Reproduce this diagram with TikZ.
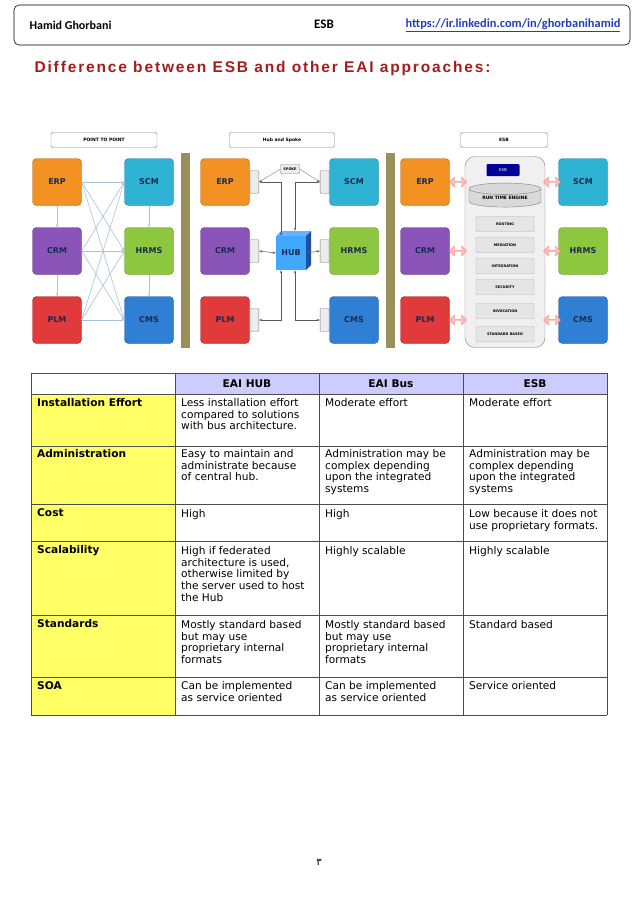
\documentclass[tikz,border=0pt]{standalone}
\usepackage{fontspec}
\setmainfont{DejaVu Sans}
\newfontfamily\carl{Carlito}
\newfontfamily\lib{Liberation Sans}
\newfontfamily\arab[Script=Arabic]{DejaVu Sans}
\TeXXeTstate=1
\usetikzlibrary{arrows.meta,shapes.geometric,shapes.arrows,calc}
\definecolor{borg}{HTML}{F39223}
\definecolor{bcyan}{HTML}{2FB3D4}
\definecolor{bpur}{HTML}{8A54B8}
\definecolor{bgrn}{HTML}{8DC63F}
\definecolor{bred}{HTML}{E03A3A}
\definecolor{bblue}{HTML}{2F7FD4}
\definecolor{navy}{HTML}{1A2A50}
\definecolor{hdr}{HTML}{CCCCFF}
\definecolor{yel}{HTML}{FFFF66}
\definecolor{bar}{HTML}{9A8F5A}
\definecolor{ttl}{HTML}{A51C1C}
\definecolor{lnk}{HTML}{1F3FBF}
\definecolor{ln}{HTML}{A9C2D6}
\tikzset{
 app/.style={rounded corners=4pt,fill=#1,draw=#1!70!black,minimum width=49pt,minimum height=47pt,font=\bfseries\fontsize{8}{9}\selectfont,text=navy,inner sep=0},
 ttlbox/.style={draw=gray,rounded corners=1.5pt,fill=white,minimum height=15pt,font=\bfseries\fontsize{4.5}{5}\selectfont},
 sep/.style={fill=bar},
 p2pa/.style={draw=ln,line width=0.6pt,-{Stealth[length=3pt]}},
 conn/.style={draw=gray,fill=gray!15,rounded corners=1pt,minimum width=9pt,minimum height=23pt,inner sep=0},
 hubl/.style={draw=gray!70!black,line width=0.5pt,{Stealth[length=3pt]}-{Stealth[length=3pt]}},
 layer/.style={draw=gray!60,fill=gray!20,rounded corners=1pt,minimum width=58pt,minimum height=15pt,font=\bfseries\fontsize{3.5}{4}\selectfont,inner sep=0},
 pk/.style={double arrow,fill=pink,draw=pink!70!red,minimum height=17pt,minimum width=10pt,inner sep=0,double arrow head extend=2pt},
 cell/.style={anchor=north west,align=left,inner sep=0,font=\fontsize{10.6}{11.8}\selectfont},
 hcell/.style={font=\bfseries\fontsize{10.6}{12}\selectfont,inner sep=0},
 tline/.style={draw=gray!60!black,line width=0.6pt}
}
\begin{document}
\begin{tikzpicture}[x=1pt,y=-1pt]
\useasboundingbox[fill=white] (0,0) rectangle (638,903);
% header
\draw[rounded corners=5pt,line width=0.6pt] (14,5) rectangle (630,45);
\node[anchor=west,font=\carl\bfseries\fontsize{12}{14}\selectfont] (hn) at (26,25) {Hamid Ghorbani};
\node[font=\carl\bfseries\fontsize{13}{15}\selectfont] (he) at (324,24) {ESB};
\node[anchor=east,font=\carl\bfseries\fontsize{12.4}{14}\selectfont,text=lnk] (hl) at (624,25) {\underline{https://ir.linkedin.com/in/ghorbanihamid}};
\node[anchor=west,font=\lib\bfseries\fontsize{15.5}{17}\selectfont,text=ttl] (tt) at (31,68) {\addfontfeature{LetterSpace=12}Difference between ESB and other EAI approaches:};
% ---- point to point
\node[ttlbox,minimum width=106pt] (t1) at (104,140) {POINT TO POINT};
\node[app=borg] (a1) at (57,182) {ERP};
\node[app=bpur] (a2) at (57,251) {CRM};
\node[app=bred] (a3) at (57,320) {PLM};
\node[app=bcyan] (b1) at (149,182) {SCM};
\node[app=bgrn] (b2) at (149,251) {HRMS};
\node[app=bblue] (b3) at (149,320) {CMS};
\foreach \a in {a1,a2,a3}{\foreach \b in {b1,b2,b3}{\draw[p2pa] (\a.east) -- (\b.west);}}
\draw[p2pa] (a1) -- (a2); \draw[p2pa] (a2) -- (a3);
\draw[p2pa] (b1) -- (b2); \draw[p2pa] (b2) -- (b3);
\fill[sep] (181,153) rectangle (190,348);
% ---- hub and spoke
\node[ttlbox,minimum width=105pt] (t2) at (282,140) {Hub and Spoke};
\node[app=borg] (c1) at (225,182) {ERP};
\node[app=bpur] (c2) at (225,251) {CRM};
\node[app=bred] (c3) at (225,320) {PLM};
\node[app=bcyan] (d1) at (354,182) {SCM};
\node[app=bgrn] (d2) at (354,251) {HRMS};
\node[app=bblue] (d3) at (354,320) {CMS};
\foreach \n in {c1,c2,c3}{\node[conn,anchor=west] (k\n) at (\n.east) {};}
\foreach \n in {d1,d2,d3}{\node[conn,anchor=east] (k\n) at (\n.west) {};}
\fill[blue!50!cyan!60] (276,236) -- (281,231) -- (311,231) -- (306,236) -- cycle;
\fill[blue!60!cyan!60!black!90] (306,236) -- (311,231) -- (311,265) -- (306,270) -- cycle;
\node[fill=blue!45!cyan!75,minimum width=30pt,minimum height=34pt,inner sep=0,font=\bfseries\fontsize{8}{9}\selectfont,text=navy] (hub) at (291,253) {HUB};
\node[draw=gray,fill=gray!15,rounded corners=1pt,font=\bfseries\fontsize{3.5}{4}\selectfont,minimum width=19pt,minimum height=9pt,inner sep=0] (sp) at (290,169) {SPOKE};
\draw[gray,line width=0.4pt,-{Stealth[length=3pt]}] (sp.west) -- (kc1.east);
\draw[gray,line width=0.4pt,-{Stealth[length=3pt]}] (sp.east) -- (kd1.west);
\draw[hubl] (kc1.east) -| ($(hub.north)+(-10,0)$);
\draw[hubl] (kd1.west) -| ($(hub.north)+(4,-5)$);
\draw[hubl] (kc2.east) -- (hub.west);
\draw[hubl] (kd2.west) -- (hub.east);
\draw[hubl] (kc3.east) -| ($(hub.south)+(-10,0)$);
\draw[hubl] (kd3.west) -| ($(hub.south)+(4,0)$);
\fill[sep] (386,153) rectangle (395,348);
% ---- ESB
\node[ttlbox,minimum width=87pt] (t3) at (504,140) {ESB};
\node[app=borg] (e1) at (425,182) {ERP};
\node[app=bpur] (e2) at (425,251) {CRM};
\node[app=bred] (e3) at (425,320) {PLM};
\node[app=bcyan] (f1) at (583,182) {SCM};
\node[app=bgrn] (f2) at (583,251) {HRMS};
\node[app=bblue] (f3) at (583,320) {CMS};
\node[draw=gray,fill=gray!12,rounded corners=10pt,minimum width=80pt,minimum height=191pt,inner sep=0] (bus) at (505,252) {};
\node[fill=blue!60!black,rounded corners=1pt,minimum width=33pt,minimum height=12pt,inner sep=0,font=\fontsize{4}{5}\selectfont,text=white] (eb) at (503,170) {ESB};
\node[cylinder,shape border rotate=90,aspect=0.25,draw=gray,fill=gray!30,minimum width=72pt,minimum height=24pt,inner sep=0,font=\bfseries\fontsize{4.5}{5}\selectfont] (rt) at (505,198) {RUN TIME ENGINE};
\node[layer] (l1) at (505,224) {ROUTING};
\node[layer] (l2) at (505,245) {MEDIATION};
\node[layer] (l3) at (505,266) {INTEGRATION};
\node[layer] (l4) at (505,287) {SECURITY};
\node[layer] (l5) at (505,311) {INVOCATION};
\node[layer] (l6) at (505,334) {STANDARD BASED};
\foreach \y in {182,251,320}{\node[pk] at (458,\y) {}; \node[pk] at (552,\y) {};}
% ---- table
\fill[hdr] (175,373) rectangle (607,394);
\fill[yel] (31,394) rectangle (175,715);
\foreach \y in {373,394,446,504,541,615,677,715}{\draw[tline] (31,\y) -- (607,\y);}
\foreach \x in {31,175,319,463,607}{\draw[tline] (\x,373) -- (\x,715);}
\node[hcell] (h1) at (247,384) {EAI HUB};
\node[hcell] (h2) at (391,384) {EAI Bus};
\node[hcell] (h3) at (535,384) {ESB};
\foreach \t/\y/\n in {Installation Effort/398/r1,Administration/449/r2,Cost/508/r3,Scalability/545/r4,Standards/619/r5,SOA/681/r6}
 {\node[anchor=north west,inner sep=0,font=\bfseries\fontsize{10.6}{12}\selectfont] (\n) at (37,\y) {\t};}
\node[cell] at (181,398) {Less installation effort\\compared to solutions\\with bus architecture.};
\node[cell] at (325,398) {Moderate effort};
\node[cell] at (469,398) {Moderate effort};
\node[cell] at (181,449) {Easy to maintain and\\administrate because\\of central hub.};
\node[cell] at (325,449) {Administration may be\\complex depending\\upon the integrated\\systems};
\node[cell] at (469,449) {Administration may be\\complex depending\\upon the integrated\\systems};
\node[cell] at (181,509) {High};
\node[cell] at (325,509) {High};
\node[cell] at (469,509) {Low because it does not\\use proprietary formats.};
\node[cell] at (181,546) {High if federated\\architecture is used,\\otherwise limited by\\the server used to host\\the Hub};
\node[cell] at (325,546) {Highly scalable};
\node[cell] at (469,546) {Highly scalable};
\node[cell] at (181,620) {Mostly standard based\\but may use\\proprietary internal\\formats};
\node[cell] at (325,620) {Mostly standard based\\but may use\\proprietary internal\\formats};
\node[cell] at (469,620) {Standard based};
\node[cell] at (181,681) {Can be implemented\\as service oriented};
\node[cell] at (325,681) {Can be implemented\\as service oriented};
\node[cell] at (469,681) {Service oriented};
\node[font=\arab\fontsize{10}{12}\selectfont] (pg) at (319,862) {\beginR ٣\endR};
\end{tikzpicture}
\end{document}
